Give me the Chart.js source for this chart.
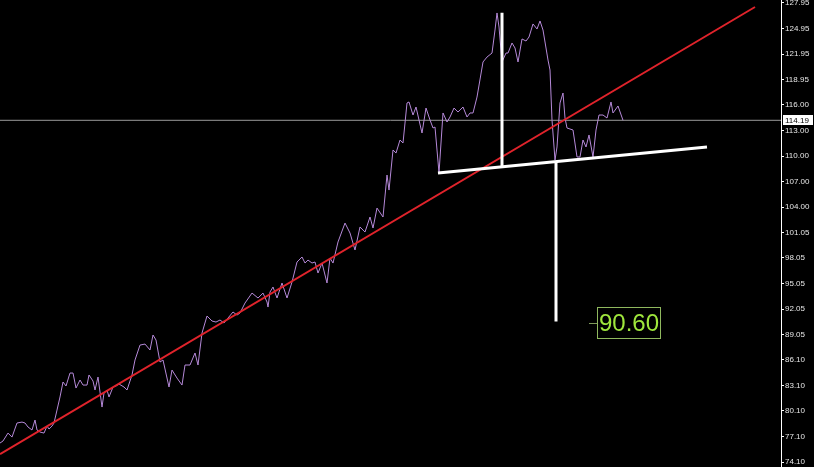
<!DOCTYPE html>
<html>
<head>
<meta charset="utf-8">
<script src="https://cdn.jsdelivr.net/npm/chart.js@4"></script>
<style>
  html, body { margin: 0; padding: 0; background: #000; }
  #wrap { width: 814px; height: 467px; }
</style>
</head>
<body>
<div id="wrap"><canvas id="chart" width="814" height="467"></canvas></div>
<script>
// bar position (x) and close price
const bars = [0,3,8,12,17,22,25,28,32,35,37,40,44,47,49,52,54,57,60,63,66,70,73,76,80,83,87,89,93,95,98,102,104,107,109,113,116,119,124,127,132,135,140,145,150,153,156,160,163,169,172,177,182,185,190,195,198,202,207,212,216,220,224,228,233,237,240,245,252,258,263,267,268,270,273,277,282,287,292,297,302,305,308,312,315,318,322,327,330,333,338,345,350,355,360,365,370,373,377,383,387,389,393,396,400,403,407,409,413,416,422,426,430,433,435,439,443,447,450,454,458,463,467,470,473,477,483,487,492,495,497,499,502,506,508,512,515,518,522,526,529,533,537,540,543,548,550,552,555,557,560,563,565,567,570,573,577,580,583,586,589,593,596,599,603,607,611,613,618,623];
const price = [76.34,76.58,77.51,77.04,78.69,78.80,78.69,78.22,77.87,79.04,77.87,77.63,77.51,78.33,77.98,78.33,78.69,80.21,81.74,83.50,83.03,84.55,84.55,82.79,83.73,83.14,83.14,84.32,83.61,82.56,84.08,80.56,82.21,82.56,81.74,82.91,83.03,83.26,82.91,82.56,84.32,86.08,87.83,87.95,87.25,89.01,88.42,85.84,86.08,82.91,84.90,83.96,83.14,85.49,85.49,86.90,85.49,89.24,91.24,90.65,90.53,90.77,90.42,91.00,91.71,91.35,91.59,92.76,93.93,93.35,93.93,92.88,92.29,94.05,94.64,93.35,95.11,93.35,95.22,97.57,98.16,97.45,97.80,97.45,97.57,96.28,97.45,95.11,98.04,97.45,99.92,102.14,100.97,98.98,101.68,101.09,102.85,101.56,103.90,102.85,107.77,106.01,110.71,110.35,111.88,111.53,116.22,116.34,114.81,115.75,112.70,115.63,114.23,113.29,113.40,108.01,115.05,113.99,114.58,115.63,115.16,115.75,114.58,115.05,115.05,116.92,121.03,121.61,122.08,124.78,126.78,125.13,121.03,122.08,122.08,123.26,122.67,121.03,123.73,123.49,123.96,125.49,124.90,125.84,124.78,121.26,120.09,114.23,109.53,111.06,116.22,117.39,114.46,113.29,113.17,113.05,109.89,109.89,111.88,111.06,112.47,109.89,113.05,114.81,114.81,114.46,116.34,115.05,115.87,114.19];

const tickValues = [127.95,124.95,121.95,118.95,116.00,113.00,110.00,107.00,104.00,101.05,98.05,95.05,92.05,89.05,86.10,83.10,80.10,77.10,74.10];
const tickLabels = ['127.95','124.95','121.95','118.95','116.00','113.00','110.00','107.00','104.00','101.05','98.05','95.05','92.05','89.05','86.10','83.10','80.10','77.10','74.10'];

const lastPrice = 114.19;
const trendBars = [0, 755];
const trendValues = [75.05, 127.48];
const necklineBars = [438, 707];
const necklineValues = [108.01, 111.06];
const headBar = 502;
const headValues = [126.81, 108.70];
const targetBar = 556;
const targetValues = [109.40, 90.60];
const targetLabelBar = 597;

function pts(xs, ys) { return xs.map((x, i) => ({x: x, y: ys[i]})); }

// labels: last price box on the axis, target box
const labelsPlugin = {
  id: 'labels',
  afterDraw(chart) {
    const ctx = chart.ctx;
    const xs = chart.scales.x, ys = chart.scales.y;
    ctx.save();
    // last price
    let py = Math.round(ys.getPixelForValue(lastPrice));
    ctx.fillStyle = '#fff';
    ctx.fillRect(783, py - 5, 30, 10);
    ctx.fillStyle = '#000';
    ctx.font = '8px "Liberation Sans", Arial, sans-serif';
    ctx.textBaseline = 'middle';
    ctx.textAlign = 'left';
    ctx.fillText(lastPrice.toFixed(2), 785, py + 0.5);
    // target
    const t = targetValues[1];
    const ty = Math.round(ys.getPixelForValue(t)) + 2;
    const tx = Math.round(xs.getPixelForValue(targetLabelBar));
    ctx.strokeStyle = '#7f9a5a';
    ctx.lineWidth = 1;
    ctx.beginPath();
    ctx.moveTo(tx - 8, ty + 0.5);
    ctx.lineTo(tx, ty + 0.5);
    ctx.stroke();
    ctx.strokeStyle = '#8fb85e';
    ctx.strokeRect(tx + 0.5, ty - 15.5, 63, 31);
    ctx.fillStyle = '#9fe63c';
    ctx.font = '24px "Liberation Sans", Arial, sans-serif';
    ctx.textAlign = 'left';
    ctx.fillText(t.toFixed(2), tx + 2, ty + 1);
    ctx.restore();
  }
};

const bgPlugin = {
  id: 'bg',
  beforeDraw(chart) {
    const ctx = chart.ctx;
    ctx.save();
    ctx.fillStyle = '#000';
    ctx.fillRect(0, 0, chart.width, chart.height);
    ctx.restore();
  }
};

new Chart(document.getElementById('chart'), {
  type: 'line',
  data: {
    datasets: [
      { data: pts([0, 781], [lastPrice, lastPrice]), borderColor: '#9a9a9a', borderWidth: 1, order: 6 },
      { data: pts(bars, price), borderColor: '#b589d8', borderWidth: 1, order: 5 },
      { data: pts(trendBars, trendValues), borderColor: '#e0232b', borderWidth: 2, order: 4 },
      { data: pts(necklineBars, necklineValues), borderColor: '#ffffff', borderWidth: 3, order: 3 },
      { data: pts([headBar, headBar], headValues), borderColor: '#ffffff', borderWidth: 3, order: 2 },
      { data: pts([targetBar, targetBar], targetValues), borderColor: '#ffffff', borderWidth: 3, order: 1 }
    ]
  },
  options: {
    responsive: false,
    animation: false,
    layout: { padding: 0 },
    elements: { point: { radius: 0 }, line: { tension: 0 } },
    plugins: { legend: { display: false }, tooltip: { enabled: false } },
    scales: {
      x: { type: 'linear', min: 0, max: 781, display: false },
      y: {
        type: 'linear',
        position: 'right',
        min: 73.53,
        max: 128.30,
        afterBuildTicks(scale) { scale.ticks = tickValues.map(v => ({value: v})); },
        afterFit(scale) { scale.width = 33; scale.paddingTop = 0; scale.paddingBottom = 0; },
        border: { display: true, color: '#ffffff', width: 1 },
        grid: { drawOnChartArea: false, drawTicks: true, tickLength: 3, color: '#ffffff' },
        ticks: {
          color: '#e6e6e6',
          padding: 1,
          font: { family: '"Liberation Sans", Arial, sans-serif', size: 8 },
          autoSkip: false,
          callback: (v, i) => tickLabels[i]
        }
      }
    }
  },
  plugins: [bgPlugin, labelsPlugin]
});
</script>
</body>
</html>
